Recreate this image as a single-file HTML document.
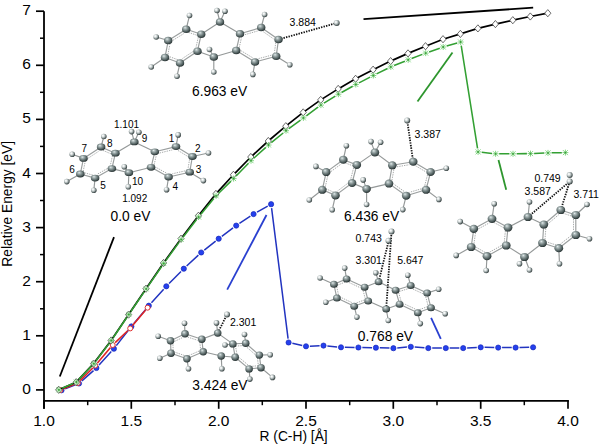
<!DOCTYPE html><html><head><meta charset="utf-8"><style>html,body{margin:0;padding:0;background:#fff;}svg{display:block;}text{font-family:"Liberation Sans",sans-serif;stroke:none;} text.s{stroke:none;}</style></head><body>
<svg width="600" height="444" viewBox="0 0 600 444">
<defs>
<radialGradient id="gc" cx="0.42" cy="0.38" r="0.64" fx="0.36" fy="0.3"><stop offset="0" stop-color="#e8f0f0"/><stop offset="0.18" stop-color="#b6c2c2"/><stop offset="0.47" stop-color="#7e8c8c"/><stop offset="0.8" stop-color="#465454"/><stop offset="1" stop-color="#202a2a"/></radialGradient>
<radialGradient id="gh" cx="0.4" cy="0.4" r="0.66" fx="0.34" fy="0.32"><stop offset="0" stop-color="#ffffff"/><stop offset="0.25" stop-color="#e8ecec"/><stop offset="0.55" stop-color="#a4aeae"/><stop offset="0.82" stop-color="#4e5a5a"/><stop offset="1" stop-color="#2a3232"/></radialGradient>
</defs>
<rect width="600" height="444" fill="#fff"/>
<path d="M44,11.2 V408.8 M36,389.9" stroke="#000" stroke-width="1.8" fill="none"/>
<line x1="43.1" y1="400.8" x2="568.9" y2="400.8" stroke="#000" stroke-width="1.8"/>
<line x1="36" y1="389.9" x2="44" y2="389.9" stroke="#000" stroke-width="1.7"/>
<text x="30.8" y="393.9" font-size="15.5" text-anchor="end" fill="#000">0</text>
<line x1="40" y1="362.8" x2="44" y2="362.8" stroke="#000" stroke-width="1.5"/>
<line x1="36" y1="335.8" x2="44" y2="335.8" stroke="#000" stroke-width="1.7"/>
<text x="30.8" y="339.8" font-size="15.5" text-anchor="end" fill="#000">1</text>
<line x1="40" y1="308.8" x2="44" y2="308.8" stroke="#000" stroke-width="1.5"/>
<line x1="36" y1="281.7" x2="44" y2="281.7" stroke="#000" stroke-width="1.7"/>
<text x="30.8" y="285.7" font-size="15.5" text-anchor="end" fill="#000">2</text>
<line x1="40" y1="254.6" x2="44" y2="254.6" stroke="#000" stroke-width="1.5"/>
<line x1="36" y1="227.6" x2="44" y2="227.6" stroke="#000" stroke-width="1.7"/>
<text x="30.8" y="231.6" font-size="15.5" text-anchor="end" fill="#000">3</text>
<line x1="40" y1="200.5" x2="44" y2="200.5" stroke="#000" stroke-width="1.5"/>
<line x1="36" y1="173.5" x2="44" y2="173.5" stroke="#000" stroke-width="1.7"/>
<text x="30.8" y="177.5" font-size="15.5" text-anchor="end" fill="#000">4</text>
<line x1="40" y1="146.4" x2="44" y2="146.4" stroke="#000" stroke-width="1.5"/>
<line x1="36" y1="119.4" x2="44" y2="119.4" stroke="#000" stroke-width="1.7"/>
<text x="30.8" y="123.4" font-size="15.5" text-anchor="end" fill="#000">5</text>
<line x1="40" y1="92.3" x2="44" y2="92.3" stroke="#000" stroke-width="1.5"/>
<line x1="36" y1="65.3" x2="44" y2="65.3" stroke="#000" stroke-width="1.7"/>
<text x="30.8" y="69.3" font-size="15.5" text-anchor="end" fill="#000">6</text>
<line x1="40" y1="38.2" x2="44" y2="38.2" stroke="#000" stroke-width="1.5"/>
<line x1="36" y1="11.2" x2="44" y2="11.2" stroke="#000" stroke-width="1.7"/>
<text x="30.8" y="15.2" font-size="15.5" text-anchor="end" fill="#000">7</text>
<line x1="44.0" y1="400.8" x2="44.0" y2="408.8" stroke="#000" stroke-width="1.7"/>
<text x="44.0" y="426.0" font-size="15.5" text-anchor="middle" fill="#000">1.0</text>
<line x1="87.7" y1="400.8" x2="87.7" y2="405.2" stroke="#000" stroke-width="1.5"/>
<line x1="131.3" y1="400.8" x2="131.3" y2="408.8" stroke="#000" stroke-width="1.7"/>
<text x="131.3" y="426.0" font-size="15.5" text-anchor="middle" fill="#000">1.5</text>
<line x1="175.0" y1="400.8" x2="175.0" y2="405.2" stroke="#000" stroke-width="1.5"/>
<line x1="218.7" y1="400.8" x2="218.7" y2="408.8" stroke="#000" stroke-width="1.7"/>
<text x="218.7" y="426.0" font-size="15.5" text-anchor="middle" fill="#000">2.0</text>
<line x1="262.3" y1="400.8" x2="262.3" y2="405.2" stroke="#000" stroke-width="1.5"/>
<line x1="306.0" y1="400.8" x2="306.0" y2="408.8" stroke="#000" stroke-width="1.7"/>
<text x="306.0" y="426.0" font-size="15.5" text-anchor="middle" fill="#000">2.5</text>
<line x1="349.7" y1="400.8" x2="349.7" y2="405.2" stroke="#000" stroke-width="1.5"/>
<line x1="393.3" y1="400.8" x2="393.3" y2="408.8" stroke="#000" stroke-width="1.7"/>
<text x="393.3" y="426.0" font-size="15.5" text-anchor="middle" fill="#000">3.0</text>
<line x1="437.0" y1="400.8" x2="437.0" y2="405.2" stroke="#000" stroke-width="1.5"/>
<line x1="480.7" y1="400.8" x2="480.7" y2="408.8" stroke="#000" stroke-width="1.7"/>
<text x="480.7" y="426.0" font-size="15.5" text-anchor="middle" fill="#000">3.5</text>
<line x1="524.3" y1="400.8" x2="524.3" y2="405.2" stroke="#000" stroke-width="1.5"/>
<line x1="568.0" y1="400.8" x2="568.0" y2="408.8" stroke="#000" stroke-width="1.7"/>
<text x="568.0" y="426.0" font-size="15.5" text-anchor="middle" fill="#000">4.0</text>
<text x="293.6" y="440.7" font-size="13.8" text-anchor="middle" fill="#000">R (C-H) [&#197;]</text>
<text transform="translate(11.8,203.8) rotate(-90)" x="0" y="0" font-size="13.8" text-anchor="middle" fill="#000">Relative Energy [eV]</text>
<line x1="59.8" y1="376.5" x2="114" y2="237.1" stroke="#000" stroke-width="1.8"/>
<line x1="363.5" y1="19.1" x2="533.2" y2="7.7" stroke="#000" stroke-width="1.8"/>
<line x1="452.5" y1="52.5" x2="417.5" y2="101.5" stroke="#2e962e" stroke-width="1.8"/>
<line x1="498.5" y1="160" x2="506.2" y2="189.7" stroke="#2e962e" stroke-width="1.8"/>
<line x1="266.5" y1="215" x2="227.2" y2="289.7" stroke="#2a40d0" stroke-width="1.8"/>
<line x1="431.1" y1="317.8" x2="440.8" y2="338.8" stroke="#2a40d0" stroke-width="1.8"/>
<path d="M65.13,388.89L75.33,384.91M81.88,380.91L93.52,370.59M99.05,365.11L111.28,351.59M116.31,345.63L128.96,329.47M133.88,323.42L146.32,308.68M151.44,302.80L163.69,289.20M169.05,283.53L181.02,271.47M186.63,266.05L198.38,255.15M204.30,250.08L215.64,241.12M221.82,236.36L233.05,227.94M239.43,223.46L250.38,216.24M257.03,212.18L267.71,206.12M271.59,208.07L288.08,338.63M292.38,343.33L302.23,345.47M309.93,346.14L319.61,345.76M327.39,345.98L337.09,346.92M344.87,347.34L354.54,347.46M362.34,347.54L372.01,347.66M379.80,347.81L389.47,348.09M397.26,347.89L406.95,347.11M414.73,347.09L424.42,347.81M432.21,348.10L441.87,348.10M449.67,348.10L459.34,348.10M467.14,347.92L476.81,347.48M484.61,347.37L494.28,347.53M502.07,347.60L511.74,347.60M519.54,347.53L529.21,347.37" fill="none" stroke="#2234c0" stroke-width="1.5" stroke-linecap="butt"/>
<circle cx="61.5" cy="390.3" r="2.6" fill="#2440ee" stroke="#1828b8" stroke-width="0.7"/>
<circle cx="79.0" cy="383.5" r="2.6" fill="#2440ee" stroke="#1828b8" stroke-width="0.7"/>
<circle cx="96.4" cy="368.0" r="2.6" fill="#2440ee" stroke="#1828b8" stroke-width="0.7"/>
<circle cx="113.9" cy="348.7" r="2.6" fill="#2440ee" stroke="#1828b8" stroke-width="0.7"/>
<circle cx="131.4" cy="326.4" r="2.6" fill="#2440ee" stroke="#1828b8" stroke-width="0.7"/>
<circle cx="148.8" cy="305.7" r="2.6" fill="#2440ee" stroke="#1828b8" stroke-width="0.7"/>
<circle cx="166.3" cy="286.3" r="2.6" fill="#2440ee" stroke="#1828b8" stroke-width="0.7"/>
<circle cx="183.8" cy="268.7" r="2.6" fill="#2440ee" stroke="#1828b8" stroke-width="0.7"/>
<circle cx="201.2" cy="252.5" r="2.6" fill="#2440ee" stroke="#1828b8" stroke-width="0.7"/>
<circle cx="218.7" cy="238.7" r="2.6" fill="#2440ee" stroke="#1828b8" stroke-width="0.7"/>
<circle cx="236.2" cy="225.6" r="2.6" fill="#2440ee" stroke="#1828b8" stroke-width="0.7"/>
<circle cx="253.6" cy="214.1" r="2.6" fill="#2440ee" stroke="#1828b8" stroke-width="0.7"/>
<circle cx="271.1" cy="204.2" r="2.6" fill="#2440ee" stroke="#1828b8" stroke-width="0.7"/>
<circle cx="288.6" cy="342.5" r="2.6" fill="#2440ee" stroke="#1828b8" stroke-width="0.7"/>
<circle cx="306.0" cy="346.3" r="2.6" fill="#2440ee" stroke="#1828b8" stroke-width="0.7"/>
<circle cx="323.5" cy="345.6" r="2.6" fill="#2440ee" stroke="#1828b8" stroke-width="0.7"/>
<circle cx="341.0" cy="347.3" r="2.6" fill="#2440ee" stroke="#1828b8" stroke-width="0.7"/>
<circle cx="358.4" cy="347.5" r="2.6" fill="#2440ee" stroke="#1828b8" stroke-width="0.7"/>
<circle cx="375.9" cy="347.7" r="2.6" fill="#2440ee" stroke="#1828b8" stroke-width="0.7"/>
<circle cx="393.4" cy="348.2" r="2.6" fill="#2440ee" stroke="#1828b8" stroke-width="0.7"/>
<circle cx="410.8" cy="346.8" r="2.6" fill="#2440ee" stroke="#1828b8" stroke-width="0.7"/>
<circle cx="428.3" cy="348.1" r="2.6" fill="#2440ee" stroke="#1828b8" stroke-width="0.7"/>
<circle cx="445.8" cy="348.1" r="2.6" fill="#2440ee" stroke="#1828b8" stroke-width="0.7"/>
<circle cx="463.2" cy="348.1" r="2.6" fill="#2440ee" stroke="#1828b8" stroke-width="0.7"/>
<circle cx="480.7" cy="347.3" r="2.6" fill="#2440ee" stroke="#1828b8" stroke-width="0.7"/>
<circle cx="498.2" cy="347.6" r="2.6" fill="#2440ee" stroke="#1828b8" stroke-width="0.7"/>
<circle cx="515.6" cy="347.6" r="2.6" fill="#2440ee" stroke="#1828b8" stroke-width="0.7"/>
<circle cx="533.1" cy="347.3" r="2.6" fill="#2440ee" stroke="#1828b8" stroke-width="0.7"/>
<path d="M63.46,388.74L74.61,384.26M80.18,380.60L92.83,368.00M97.43,363.01L110.50,347.59M115.17,342.66L127.70,330.74M132.36,325.80L145.44,310.30" fill="none" stroke="#e02424" stroke-width="1.6" stroke-linecap="butt"/>
<circle cx="60.3" cy="390.0" r="2.5" fill="#fff" stroke="#e03030" stroke-width="1"/>
<circle cx="77.8" cy="383.0" r="2.5" fill="#fff" stroke="#e03030" stroke-width="1"/>
<circle cx="95.2" cy="365.6" r="2.5" fill="#fff" stroke="#e03030" stroke-width="1"/>
<circle cx="112.7" cy="345.0" r="2.5" fill="#fff" stroke="#e03030" stroke-width="1"/>
<circle cx="130.2" cy="328.4" r="2.5" fill="#fff" stroke="#e03030" stroke-width="1"/>
<circle cx="147.6" cy="307.7" r="2.5" fill="#fff" stroke="#e03030" stroke-width="1"/>
<polyline points="58.7,389.8 76.2,382.2 93.6,363.6 111.1,340.5 128.6,314.6 146.0,288.7 163.5,263.0 181.0,238.7 198.4,215.8 215.9,193.9 233.4,174.8 250.8,157.0 268.3,141.0 285.8,126.2 303.2,112.4 320.7,99.9 338.2,88.9 355.6,78.8 373.1,69.7 390.6,61.1 408.0,53.4 425.5,46.2 443.0,39.2 460.4,33.9 477.9,28.4 495.4,24.1 512.8,20.2 530.3,16.5 547.8,13.2" fill="none" stroke="#000" stroke-width="1.7"/>
<path d="M58.7,386.2 L61.8,389.8 L58.7,393.4 L55.6,389.8 Z" fill="#fff" stroke="#444" stroke-width="0.8"/>
<path d="M76.2,378.6 L79.3,382.2 L76.2,385.8 L73.1,382.2 Z" fill="#fff" stroke="#444" stroke-width="0.8"/>
<path d="M93.6,360.0 L96.7,363.6 L93.6,367.2 L90.5,363.6 Z" fill="#fff" stroke="#444" stroke-width="0.8"/>
<path d="M111.1,336.9 L114.2,340.5 L111.1,344.1 L108.0,340.5 Z" fill="#fff" stroke="#444" stroke-width="0.8"/>
<path d="M128.6,311.0 L131.7,314.6 L128.6,318.2 L125.5,314.6 Z" fill="#fff" stroke="#444" stroke-width="0.8"/>
<path d="M146.0,285.1 L149.1,288.7 L146.0,292.3 L142.9,288.7 Z" fill="#fff" stroke="#444" stroke-width="0.8"/>
<path d="M163.5,259.4 L166.6,263.0 L163.5,266.6 L160.4,263.0 Z" fill="#fff" stroke="#444" stroke-width="0.8"/>
<path d="M181.0,235.1 L184.1,238.7 L181.0,242.3 L177.9,238.7 Z" fill="#fff" stroke="#444" stroke-width="0.8"/>
<path d="M198.4,212.2 L201.5,215.8 L198.4,219.4 L195.3,215.8 Z" fill="#fff" stroke="#444" stroke-width="0.8"/>
<path d="M215.9,190.3 L219.0,193.9 L215.9,197.5 L212.8,193.9 Z" fill="#fff" stroke="#444" stroke-width="0.8"/>
<path d="M233.4,171.2 L236.5,174.8 L233.4,178.4 L230.3,174.8 Z" fill="#fff" stroke="#444" stroke-width="0.8"/>
<path d="M250.8,153.4 L253.9,157.0 L250.8,160.6 L247.7,157.0 Z" fill="#fff" stroke="#444" stroke-width="0.8"/>
<path d="M268.3,137.4 L271.4,141.0 L268.3,144.6 L265.2,141.0 Z" fill="#fff" stroke="#444" stroke-width="0.8"/>
<path d="M285.8,122.6 L288.9,126.2 L285.8,129.8 L282.7,126.2 Z" fill="#fff" stroke="#444" stroke-width="0.8"/>
<path d="M303.2,108.8 L306.3,112.4 L303.2,116.0 L300.1,112.4 Z" fill="#fff" stroke="#444" stroke-width="0.8"/>
<path d="M320.7,96.3 L323.8,99.9 L320.7,103.5 L317.6,99.9 Z" fill="#fff" stroke="#444" stroke-width="0.8"/>
<path d="M338.2,85.3 L341.3,88.9 L338.2,92.5 L335.1,88.9 Z" fill="#fff" stroke="#444" stroke-width="0.8"/>
<path d="M355.6,75.2 L358.7,78.8 L355.6,82.4 L352.5,78.8 Z" fill="#fff" stroke="#444" stroke-width="0.8"/>
<path d="M373.1,66.1 L376.2,69.7 L373.1,73.3 L370.0,69.7 Z" fill="#fff" stroke="#444" stroke-width="0.8"/>
<path d="M390.6,57.5 L393.7,61.1 L390.6,64.7 L387.5,61.1 Z" fill="#fff" stroke="#444" stroke-width="0.8"/>
<path d="M408.0,49.8 L411.1,53.4 L408.0,57.0 L404.9,53.4 Z" fill="#fff" stroke="#444" stroke-width="0.8"/>
<path d="M425.5,42.6 L428.6,46.2 L425.5,49.8 L422.4,46.2 Z" fill="#fff" stroke="#444" stroke-width="0.8"/>
<path d="M443.0,35.6 L446.1,39.2 L443.0,42.8 L439.9,39.2 Z" fill="#fff" stroke="#444" stroke-width="0.8"/>
<path d="M460.4,30.3 L463.5,33.9 L460.4,37.5 L457.3,33.9 Z" fill="#fff" stroke="#444" stroke-width="0.8"/>
<path d="M477.9,24.8 L481.0,28.4 L477.9,32.0 L474.8,28.4 Z" fill="#fff" stroke="#444" stroke-width="0.8"/>
<path d="M495.4,20.5 L498.5,24.1 L495.4,27.7 L492.3,24.1 Z" fill="#fff" stroke="#444" stroke-width="0.8"/>
<path d="M512.8,16.6 L515.9,20.2 L512.8,23.8 L509.7,20.2 Z" fill="#fff" stroke="#444" stroke-width="0.8"/>
<path d="M530.3,12.9 L533.4,16.5 L530.3,20.1 L527.2,16.5 Z" fill="#fff" stroke="#444" stroke-width="0.8"/>
<path d="M547.8,9.6 L550.9,13.2 L547.8,16.8 L544.7,13.2 Z" fill="#fff" stroke="#444" stroke-width="0.8"/>
<path d="M62.19,388.33L73.08,383.47M78.85,379.40L91.35,366.30M96.00,360.82L109.14,343.38M113.31,337.51L126.76,317.49M130.80,311.53L144.21,291.87M148.27,285.93L161.66,266.47M165.82,260.59L179.05,242.41M183.38,236.66L196.43,219.84M200.93,214.22L213.81,198.58M218.67,193.27L231.00,181.13M236.08,176.02L248.52,163.28M253.71,158.29L265.83,147.41M271.29,142.72L283.19,132.98M288.87,128.57L300.53,120.03M306.34,115.77L318.00,107.23M323.96,103.19L335.32,96.11M341.52,92.45L352.69,86.25M359.04,82.85L370.11,77.15M376.54,73.91L387.54,68.49M394.11,65.54L404.90,61.16M411.60,58.51L422.35,54.39M429.11,51.91L439.78,48.19M446.63,46.01L457.18,42.99M461.21,45.56L477.54,148.34M481.69,152.29L492.00,153.41M499.17,153.80L509.44,153.80M516.64,153.76L526.91,153.64M534.11,153.46L544.38,153.04M551.58,152.84L561.84,152.66" fill="none" stroke="#33a033" stroke-width="1.55" stroke-linecap="butt"/>
<g stroke="#78d078" stroke-width="0.9"><line x1="56.4" y1="387.3" x2="61.4" y2="392.3"/><line x1="56.4" y1="392.3" x2="61.4" y2="387.3"/><line x1="58.9" y1="386.8" x2="58.9" y2="392.8"/><line x1="55.9" y1="389.8" x2="61.9" y2="389.8"/></g><circle cx="58.9" cy="389.8" r="0.9" fill="#3c9c3c"/>
<g stroke="#78d078" stroke-width="0.9"><line x1="73.9" y1="379.5" x2="78.9" y2="384.5"/><line x1="73.9" y1="384.5" x2="78.9" y2="379.5"/><line x1="76.4" y1="379.0" x2="76.4" y2="385.0"/><line x1="73.4" y1="382.0" x2="79.4" y2="382.0"/></g><circle cx="76.4" cy="382.0" r="0.9" fill="#3c9c3c"/>
<g stroke="#78d078" stroke-width="0.9"><line x1="91.3" y1="361.2" x2="96.3" y2="366.2"/><line x1="91.3" y1="366.2" x2="96.3" y2="361.2"/><line x1="93.8" y1="360.7" x2="93.8" y2="366.7"/><line x1="90.8" y1="363.7" x2="96.8" y2="363.7"/></g><circle cx="93.8" cy="363.7" r="0.9" fill="#3c9c3c"/>
<g stroke="#78d078" stroke-width="0.9"><line x1="108.8" y1="338.0" x2="113.8" y2="343.0"/><line x1="108.8" y1="343.0" x2="113.8" y2="338.0"/><line x1="111.3" y1="337.5" x2="111.3" y2="343.5"/><line x1="108.3" y1="340.5" x2="114.3" y2="340.5"/></g><circle cx="111.3" cy="340.5" r="0.9" fill="#3c9c3c"/>
<g stroke="#78d078" stroke-width="0.9"><line x1="126.3" y1="312.0" x2="131.3" y2="317.0"/><line x1="126.3" y1="317.0" x2="131.3" y2="312.0"/><line x1="128.8" y1="311.5" x2="128.8" y2="317.5"/><line x1="125.8" y1="314.5" x2="131.8" y2="314.5"/></g><circle cx="128.8" cy="314.5" r="0.9" fill="#3c9c3c"/>
<g stroke="#78d078" stroke-width="0.9"><line x1="143.7" y1="286.4" x2="148.7" y2="291.4"/><line x1="143.7" y1="291.4" x2="148.7" y2="286.4"/><line x1="146.2" y1="285.9" x2="146.2" y2="291.9"/><line x1="143.2" y1="288.9" x2="149.2" y2="288.9"/></g><circle cx="146.2" cy="288.9" r="0.9" fill="#3c9c3c"/>
<g stroke="#78d078" stroke-width="0.9"><line x1="161.2" y1="261.0" x2="166.2" y2="266.0"/><line x1="161.2" y1="266.0" x2="166.2" y2="261.0"/><line x1="163.7" y1="260.5" x2="163.7" y2="266.5"/><line x1="160.7" y1="263.5" x2="166.7" y2="263.5"/></g><circle cx="163.7" cy="263.5" r="0.9" fill="#3c9c3c"/>
<g stroke="#78d078" stroke-width="0.9"><line x1="178.7" y1="237.0" x2="183.7" y2="242.0"/><line x1="178.7" y1="242.0" x2="183.7" y2="237.0"/><line x1="181.2" y1="236.5" x2="181.2" y2="242.5"/><line x1="178.2" y1="239.5" x2="184.2" y2="239.5"/></g><circle cx="181.2" cy="239.5" r="0.9" fill="#3c9c3c"/>
<g stroke="#78d078" stroke-width="0.9"><line x1="196.1" y1="214.5" x2="201.1" y2="219.5"/><line x1="196.1" y1="219.5" x2="201.1" y2="214.5"/><line x1="198.6" y1="214.0" x2="198.6" y2="220.0"/><line x1="195.6" y1="217.0" x2="201.6" y2="217.0"/></g><circle cx="198.6" cy="217.0" r="0.9" fill="#3c9c3c"/>
<g stroke="#78d078" stroke-width="0.9"><line x1="213.6" y1="193.3" x2="218.6" y2="198.3"/><line x1="213.6" y1="198.3" x2="218.6" y2="193.3"/><line x1="216.1" y1="192.8" x2="216.1" y2="198.8"/><line x1="213.1" y1="195.8" x2="219.1" y2="195.8"/></g><circle cx="216.1" cy="195.8" r="0.9" fill="#3c9c3c"/>
<g stroke="#78d078" stroke-width="0.9"><line x1="231.1" y1="176.1" x2="236.1" y2="181.1"/><line x1="231.1" y1="181.1" x2="236.1" y2="176.1"/><line x1="233.6" y1="175.6" x2="233.6" y2="181.6"/><line x1="230.6" y1="178.6" x2="236.6" y2="178.6"/></g><circle cx="233.6" cy="178.6" r="0.9" fill="#3c9c3c"/>
<g stroke="#78d078" stroke-width="0.9"><line x1="248.5" y1="158.2" x2="253.5" y2="163.2"/><line x1="248.5" y1="163.2" x2="253.5" y2="158.2"/><line x1="251.0" y1="157.7" x2="251.0" y2="163.7"/><line x1="248.0" y1="160.7" x2="254.0" y2="160.7"/></g><circle cx="251.0" cy="160.7" r="0.9" fill="#3c9c3c"/>
<g stroke="#78d078" stroke-width="0.9"><line x1="266.0" y1="142.5" x2="271.0" y2="147.5"/><line x1="266.0" y1="147.5" x2="271.0" y2="142.5"/><line x1="268.5" y1="142.0" x2="268.5" y2="148.0"/><line x1="265.5" y1="145.0" x2="271.5" y2="145.0"/></g><circle cx="268.5" cy="145.0" r="0.9" fill="#3c9c3c"/>
<g stroke="#78d078" stroke-width="0.9"><line x1="283.5" y1="128.2" x2="288.5" y2="133.2"/><line x1="283.5" y1="133.2" x2="288.5" y2="128.2"/><line x1="286.0" y1="127.7" x2="286.0" y2="133.7"/><line x1="283.0" y1="130.7" x2="289.0" y2="130.7"/></g><circle cx="286.0" cy="130.7" r="0.9" fill="#3c9c3c"/>
<g stroke="#78d078" stroke-width="0.9"><line x1="300.9" y1="115.4" x2="305.9" y2="120.4"/><line x1="300.9" y1="120.4" x2="305.9" y2="115.4"/><line x1="303.4" y1="114.9" x2="303.4" y2="120.9"/><line x1="300.4" y1="117.9" x2="306.4" y2="117.9"/></g><circle cx="303.4" cy="117.9" r="0.9" fill="#3c9c3c"/>
<g stroke="#78d078" stroke-width="0.9"><line x1="318.4" y1="102.6" x2="323.4" y2="107.6"/><line x1="318.4" y1="107.6" x2="323.4" y2="102.6"/><line x1="320.9" y1="102.1" x2="320.9" y2="108.1"/><line x1="317.9" y1="105.1" x2="323.9" y2="105.1"/></g><circle cx="320.9" cy="105.1" r="0.9" fill="#3c9c3c"/>
<g stroke="#78d078" stroke-width="0.9"><line x1="335.9" y1="91.7" x2="340.9" y2="96.7"/><line x1="335.9" y1="96.7" x2="340.9" y2="91.7"/><line x1="338.4" y1="91.2" x2="338.4" y2="97.2"/><line x1="335.4" y1="94.2" x2="341.4" y2="94.2"/></g><circle cx="338.4" cy="94.2" r="0.9" fill="#3c9c3c"/>
<g stroke="#78d078" stroke-width="0.9"><line x1="353.3" y1="82.0" x2="358.3" y2="87.0"/><line x1="353.3" y1="87.0" x2="358.3" y2="82.0"/><line x1="355.8" y1="81.5" x2="355.8" y2="87.5"/><line x1="352.8" y1="84.5" x2="358.8" y2="84.5"/></g><circle cx="355.8" cy="84.5" r="0.9" fill="#3c9c3c"/>
<g stroke="#78d078" stroke-width="0.9"><line x1="370.8" y1="73.0" x2="375.8" y2="78.0"/><line x1="370.8" y1="78.0" x2="375.8" y2="73.0"/><line x1="373.3" y1="72.5" x2="373.3" y2="78.5"/><line x1="370.3" y1="75.5" x2="376.3" y2="75.5"/></g><circle cx="373.3" cy="75.5" r="0.9" fill="#3c9c3c"/>
<g stroke="#78d078" stroke-width="0.9"><line x1="388.3" y1="64.4" x2="393.3" y2="69.4"/><line x1="388.3" y1="69.4" x2="393.3" y2="64.4"/><line x1="390.8" y1="63.9" x2="390.8" y2="69.9"/><line x1="387.8" y1="66.9" x2="393.8" y2="66.9"/></g><circle cx="390.8" cy="66.9" r="0.9" fill="#3c9c3c"/>
<g stroke="#78d078" stroke-width="0.9"><line x1="405.7" y1="57.3" x2="410.7" y2="62.3"/><line x1="405.7" y1="62.3" x2="410.7" y2="57.3"/><line x1="408.2" y1="56.8" x2="408.2" y2="62.8"/><line x1="405.2" y1="59.8" x2="411.2" y2="59.8"/></g><circle cx="408.2" cy="59.8" r="0.9" fill="#3c9c3c"/>
<g stroke="#78d078" stroke-width="0.9"><line x1="423.2" y1="50.6" x2="428.2" y2="55.6"/><line x1="423.2" y1="55.6" x2="428.2" y2="50.6"/><line x1="425.7" y1="50.1" x2="425.7" y2="56.1"/><line x1="422.7" y1="53.1" x2="428.7" y2="53.1"/></g><circle cx="425.7" cy="53.1" r="0.9" fill="#3c9c3c"/>
<g stroke="#78d078" stroke-width="0.9"><line x1="440.7" y1="44.5" x2="445.7" y2="49.5"/><line x1="440.7" y1="49.5" x2="445.7" y2="44.5"/><line x1="443.2" y1="44.0" x2="443.2" y2="50.0"/><line x1="440.2" y1="47.0" x2="446.2" y2="47.0"/></g><circle cx="443.2" cy="47.0" r="0.9" fill="#3c9c3c"/>
<g stroke="#78d078" stroke-width="0.9"><line x1="458.1" y1="39.5" x2="463.1" y2="44.5"/><line x1="458.1" y1="44.5" x2="463.1" y2="39.5"/><line x1="460.6" y1="39.0" x2="460.6" y2="45.0"/><line x1="457.6" y1="42.0" x2="463.6" y2="42.0"/></g><circle cx="460.6" cy="42.0" r="0.9" fill="#3c9c3c"/>
<g stroke="#78d078" stroke-width="0.9"><line x1="475.6" y1="149.4" x2="480.6" y2="154.4"/><line x1="475.6" y1="154.4" x2="480.6" y2="149.4"/><line x1="478.1" y1="148.9" x2="478.1" y2="154.9"/><line x1="475.1" y1="151.9" x2="481.1" y2="151.9"/></g><circle cx="478.1" cy="151.9" r="0.9" fill="#3c9c3c"/>
<g stroke="#78d078" stroke-width="0.9"><line x1="493.1" y1="151.3" x2="498.1" y2="156.3"/><line x1="493.1" y1="156.3" x2="498.1" y2="151.3"/><line x1="495.6" y1="150.8" x2="495.6" y2="156.8"/><line x1="492.6" y1="153.8" x2="498.6" y2="153.8"/></g><circle cx="495.6" cy="153.8" r="0.9" fill="#3c9c3c"/>
<g stroke="#78d078" stroke-width="0.9"><line x1="510.5" y1="151.3" x2="515.5" y2="156.3"/><line x1="510.5" y1="156.3" x2="515.5" y2="151.3"/><line x1="513.0" y1="150.8" x2="513.0" y2="156.8"/><line x1="510.0" y1="153.8" x2="516.0" y2="153.8"/></g><circle cx="513.0" cy="153.8" r="0.9" fill="#3c9c3c"/>
<g stroke="#78d078" stroke-width="0.9"><line x1="528.0" y1="151.1" x2="533.0" y2="156.1"/><line x1="528.0" y1="156.1" x2="533.0" y2="151.1"/><line x1="530.5" y1="150.6" x2="530.5" y2="156.6"/><line x1="527.5" y1="153.6" x2="533.5" y2="153.6"/></g><circle cx="530.5" cy="153.6" r="0.9" fill="#3c9c3c"/>
<g stroke="#78d078" stroke-width="0.9"><line x1="545.5" y1="150.4" x2="550.5" y2="155.4"/><line x1="545.5" y1="155.4" x2="550.5" y2="150.4"/><line x1="548.0" y1="149.9" x2="548.0" y2="155.9"/><line x1="545.0" y1="152.9" x2="551.0" y2="152.9"/></g><circle cx="548.0" cy="152.9" r="0.9" fill="#3c9c3c"/>
<g stroke="#78d078" stroke-width="0.9"><line x1="562.9" y1="150.1" x2="567.9" y2="155.1"/><line x1="562.9" y1="155.1" x2="567.9" y2="150.1"/><line x1="565.4" y1="149.6" x2="565.4" y2="155.6"/><line x1="562.4" y1="152.6" x2="568.4" y2="152.6"/></g><circle cx="565.4" cy="152.6" r="0.9" fill="#3c9c3c"/>
<line x1="186.2" y1="29.2" x2="189.5" y2="15.5" stroke="#949898" stroke-width="1.15"/>
<line x1="168.2" y1="40.5" x2="156.2" y2="37.0" stroke="#949898" stroke-width="1.15"/>
<line x1="165.0" y1="57.5" x2="151.2" y2="67.0" stroke="#949898" stroke-width="1.15"/>
<line x1="180.0" y1="63.0" x2="177.0" y2="76.2" stroke="#949898" stroke-width="1.15"/>
<line x1="220.0" y1="22.0" x2="217.0" y2="10.5" stroke="#949898" stroke-width="1.15"/>
<line x1="220.0" y1="22.0" x2="225.0" y2="11.2" stroke="#949898" stroke-width="1.15"/>
<line x1="261.2" y1="27.5" x2="264.6" y2="14.5" stroke="#949898" stroke-width="1.15"/>
<line x1="276.2" y1="56.2" x2="289.8" y2="64.8" stroke="#949898" stroke-width="1.15"/>
<line x1="255.0" y1="62.0" x2="252.9" y2="74.4" stroke="#949898" stroke-width="1.15"/>
<line x1="213.8" y1="57.0" x2="209.5" y2="49.5" stroke="#949898" stroke-width="1.15"/>
<line x1="213.8" y1="57.0" x2="213.8" y2="72.0" stroke="#949898" stroke-width="1.15"/>
<line x1="201.2" y1="34.2" x2="220.0" y2="22.0" stroke="#949898" stroke-width="1.15"/>
<line x1="220.0" y1="22.0" x2="240.0" y2="33.8" stroke="#949898" stroke-width="1.15"/>
<line x1="197.5" y1="51.2" x2="213.8" y2="57.0" stroke="#949898" stroke-width="1.15"/>
<line x1="213.8" y1="57.0" x2="236.2" y2="50.5" stroke="#949898" stroke-width="1.15"/>
<line x1="186.2" y1="29.2" x2="201.2" y2="34.2" stroke="#9a9e9e" stroke-width="1.15"/>
<line x1="188.5" y1="32.4" x2="197.5" y2="35.4" stroke="#a4a8a8" stroke-width="0.95" stroke-dasharray="1.4,1.0"/>
<line x1="201.2" y1="34.2" x2="197.5" y2="51.2" stroke="#9a9e9e" stroke-width="1.15"/>
<line x1="198.3" y1="37.2" x2="196.0" y2="47.4" stroke="#a4a8a8" stroke-width="0.95" stroke-dasharray="1.4,1.0"/>
<line x1="197.5" y1="51.2" x2="180.0" y2="63.0" stroke="#9a9e9e" stroke-width="1.15"/>
<line x1="192.7" y1="51.7" x2="182.2" y2="58.7" stroke="#a4a8a8" stroke-width="0.95" stroke-dasharray="1.4,1.0"/>
<line x1="180.0" y1="63.0" x2="165.0" y2="57.5" stroke="#9a9e9e" stroke-width="1.15"/>
<line x1="177.8" y1="59.7" x2="168.8" y2="56.4" stroke="#a4a8a8" stroke-width="0.95" stroke-dasharray="1.4,1.0"/>
<line x1="165.0" y1="57.5" x2="168.2" y2="40.5" stroke="#9a9e9e" stroke-width="1.15"/>
<line x1="167.9" y1="54.5" x2="169.9" y2="44.3" stroke="#a4a8a8" stroke-width="0.95" stroke-dasharray="1.4,1.0"/>
<line x1="168.2" y1="40.5" x2="186.2" y2="29.2" stroke="#9a9e9e" stroke-width="1.15"/>
<line x1="173.1" y1="40.2" x2="183.9" y2="33.5" stroke="#a4a8a8" stroke-width="0.95" stroke-dasharray="1.4,1.0"/>
<line x1="240.0" y1="33.8" x2="261.2" y2="27.5" stroke="#9a9e9e" stroke-width="1.15"/>
<line x1="244.9" y1="34.7" x2="257.6" y2="31.0" stroke="#a4a8a8" stroke-width="0.95" stroke-dasharray="1.4,1.0"/>
<line x1="261.2" y1="27.5" x2="278.5" y2="39.5" stroke="#9a9e9e" stroke-width="1.15"/>
<line x1="263.4" y1="31.8" x2="273.7" y2="39.0" stroke="#a4a8a8" stroke-width="0.95" stroke-dasharray="1.4,1.0"/>
<line x1="278.5" y1="39.5" x2="276.2" y2="56.2" stroke="#9a9e9e" stroke-width="1.15"/>
<line x1="275.8" y1="42.5" x2="274.4" y2="52.6" stroke="#a4a8a8" stroke-width="0.95" stroke-dasharray="1.4,1.0"/>
<line x1="276.2" y1="56.2" x2="255.0" y2="62.0" stroke="#9a9e9e" stroke-width="1.15"/>
<line x1="271.4" y1="55.2" x2="258.6" y2="58.6" stroke="#a4a8a8" stroke-width="0.95" stroke-dasharray="1.4,1.0"/>
<line x1="255.0" y1="62.0" x2="236.2" y2="50.5" stroke="#9a9e9e" stroke-width="1.15"/>
<line x1="252.5" y1="57.7" x2="241.2" y2="50.8" stroke="#a4a8a8" stroke-width="0.95" stroke-dasharray="1.4,1.0"/>
<line x1="236.2" y1="50.5" x2="240.0" y2="33.8" stroke="#9a9e9e" stroke-width="1.15"/>
<line x1="239.2" y1="47.7" x2="241.5" y2="37.6" stroke="#a4a8a8" stroke-width="0.95" stroke-dasharray="1.4,1.0"/>
<line x1="278.5" y1="39.5" x2="336.7" y2="23.0" stroke="#111" stroke-width="1.8" stroke-dasharray="1.4,1.2"/>
<circle cx="217.0" cy="10.5" r="2.8" fill="url(#gh)"/>
<circle cx="225.0" cy="11.2" r="2.8" fill="url(#gh)"/>
<circle cx="264.6" cy="14.5" r="2.8" fill="url(#gh)"/>
<circle cx="189.5" cy="15.5" r="2.8" fill="url(#gh)"/>
<ellipse cx="220.0" cy="22.0" rx="4.2" ry="3.8" fill="url(#gc)"/>
<circle cx="336.7" cy="23.0" r="3.0" fill="url(#gh)"/>
<ellipse cx="261.2" cy="27.5" rx="4.2" ry="3.8" fill="url(#gc)"/>
<ellipse cx="186.2" cy="29.2" rx="4.2" ry="3.8" fill="url(#gc)"/>
<ellipse cx="240.0" cy="33.8" rx="4.2" ry="3.8" fill="url(#gc)"/>
<ellipse cx="201.2" cy="34.2" rx="4.2" ry="3.8" fill="url(#gc)"/>
<circle cx="156.2" cy="37.0" r="2.8" fill="url(#gh)"/>
<ellipse cx="278.5" cy="39.5" rx="4.2" ry="3.8" fill="url(#gc)"/>
<ellipse cx="168.2" cy="40.5" rx="4.2" ry="3.8" fill="url(#gc)"/>
<circle cx="209.5" cy="49.5" r="2.8" fill="url(#gh)"/>
<ellipse cx="236.2" cy="50.5" rx="4.2" ry="3.8" fill="url(#gc)"/>
<ellipse cx="197.5" cy="51.2" rx="4.2" ry="3.8" fill="url(#gc)"/>
<ellipse cx="276.2" cy="56.2" rx="4.2" ry="3.8" fill="url(#gc)"/>
<ellipse cx="213.8" cy="57.0" rx="4.2" ry="3.8" fill="url(#gc)"/>
<ellipse cx="165.0" cy="57.5" rx="4.2" ry="3.8" fill="url(#gc)"/>
<ellipse cx="255.0" cy="62.0" rx="4.2" ry="3.8" fill="url(#gc)"/>
<ellipse cx="180.0" cy="63.0" rx="4.2" ry="3.8" fill="url(#gc)"/>
<circle cx="289.8" cy="64.8" r="2.8" fill="url(#gh)"/>
<circle cx="151.2" cy="67.0" r="2.8" fill="url(#gh)"/>
<circle cx="213.8" cy="72.0" r="2.8" fill="url(#gh)"/>
<circle cx="252.9" cy="74.4" r="2.8" fill="url(#gh)"/>
<circle cx="177.0" cy="76.2" r="2.8" fill="url(#gh)"/>
<text class="s" x="289.6" y="25.9" font-size="10.5" text-anchor="start" fill="#000">3.884</text>
<text x="192.0" y="96.0" font-size="13.8" text-anchor="start" fill="#000">6.963 eV</text>
<line x1="101.1" y1="147.0" x2="103.8" y2="136.5" stroke="#949898" stroke-width="1.15"/>
<line x1="83.5" y1="158.4" x2="72.2" y2="154.3" stroke="#949898" stroke-width="1.15"/>
<line x1="80.3" y1="174.0" x2="66.8" y2="181.6" stroke="#949898" stroke-width="1.15"/>
<line x1="95.1" y1="178.1" x2="93.8" y2="190.3" stroke="#949898" stroke-width="1.15"/>
<line x1="134.3" y1="141.9" x2="131.6" y2="131.6" stroke="#949898" stroke-width="1.15"/>
<line x1="134.3" y1="141.9" x2="138.9" y2="132.2" stroke="#949898" stroke-width="1.15"/>
<line x1="176.0" y1="146.6" x2="178.2" y2="134.9" stroke="#949898" stroke-width="1.15"/>
<line x1="192.4" y1="156.5" x2="208.5" y2="153.0" stroke="#949898" stroke-width="1.15"/>
<line x1="189.7" y1="172.2" x2="203.4" y2="180.6" stroke="#949898" stroke-width="1.15"/>
<line x1="168.6" y1="177.0" x2="166.6" y2="189.7" stroke="#949898" stroke-width="1.15"/>
<line x1="128.9" y1="172.7" x2="124.3" y2="166.8" stroke="#949898" stroke-width="1.15"/>
<line x1="128.9" y1="172.7" x2="128.3" y2="186.8" stroke="#949898" stroke-width="1.15"/>
<line x1="115.4" y1="153.2" x2="134.3" y2="141.9" stroke="#949898" stroke-width="1.15"/>
<line x1="134.3" y1="141.9" x2="154.8" y2="151.8" stroke="#949898" stroke-width="1.15"/>
<line x1="111.9" y1="168.6" x2="128.9" y2="172.7" stroke="#949898" stroke-width="1.15"/>
<line x1="128.9" y1="172.7" x2="151.1" y2="167.3" stroke="#949898" stroke-width="1.15"/>
<line x1="101.1" y1="147.0" x2="115.4" y2="153.2" stroke="#9a9e9e" stroke-width="1.15"/>
<line x1="103.0" y1="150.4" x2="111.6" y2="154.1" stroke="#a4a8a8" stroke-width="0.95" stroke-dasharray="1.4,1.0"/>
<line x1="115.4" y1="153.2" x2="111.9" y2="168.6" stroke="#9a9e9e" stroke-width="1.15"/>
<line x1="112.5" y1="155.8" x2="110.4" y2="165.0" stroke="#a4a8a8" stroke-width="0.95" stroke-dasharray="1.4,1.0"/>
<line x1="111.9" y1="168.6" x2="95.1" y2="178.1" stroke="#9a9e9e" stroke-width="1.15"/>
<line x1="107.4" y1="168.5" x2="97.3" y2="174.2" stroke="#a4a8a8" stroke-width="0.95" stroke-dasharray="1.4,1.0"/>
<line x1="95.1" y1="178.1" x2="80.3" y2="174.0" stroke="#9a9e9e" stroke-width="1.15"/>
<line x1="92.8" y1="175.1" x2="83.9" y2="172.6" stroke="#a4a8a8" stroke-width="0.95" stroke-dasharray="1.4,1.0"/>
<line x1="80.3" y1="174.0" x2="83.5" y2="158.4" stroke="#9a9e9e" stroke-width="1.15"/>
<line x1="83.2" y1="171.3" x2="85.1" y2="162.0" stroke="#a4a8a8" stroke-width="0.95" stroke-dasharray="1.4,1.0"/>
<line x1="83.5" y1="158.4" x2="101.1" y2="147.0" stroke="#9a9e9e" stroke-width="1.15"/>
<line x1="88.3" y1="158.1" x2="98.8" y2="151.2" stroke="#a4a8a8" stroke-width="0.95" stroke-dasharray="1.4,1.0"/>
<line x1="154.8" y1="151.8" x2="176.0" y2="146.6" stroke="#9a9e9e" stroke-width="1.15"/>
<line x1="159.6" y1="153.0" x2="172.3" y2="149.9" stroke="#a4a8a8" stroke-width="0.95" stroke-dasharray="1.4,1.0"/>
<line x1="176.0" y1="146.6" x2="192.4" y2="156.5" stroke="#9a9e9e" stroke-width="1.15"/>
<line x1="178.1" y1="150.5" x2="187.9" y2="156.5" stroke="#a4a8a8" stroke-width="0.95" stroke-dasharray="1.4,1.0"/>
<line x1="192.4" y1="156.5" x2="189.7" y2="172.2" stroke="#9a9e9e" stroke-width="1.15"/>
<line x1="189.6" y1="159.3" x2="188.0" y2="168.7" stroke="#a4a8a8" stroke-width="0.95" stroke-dasharray="1.4,1.0"/>
<line x1="189.7" y1="172.2" x2="168.6" y2="177.0" stroke="#9a9e9e" stroke-width="1.15"/>
<line x1="185.0" y1="170.9" x2="172.3" y2="173.8" stroke="#a4a8a8" stroke-width="0.95" stroke-dasharray="1.4,1.0"/>
<line x1="168.6" y1="177.0" x2="151.1" y2="167.3" stroke="#9a9e9e" stroke-width="1.15"/>
<line x1="166.2" y1="173.0" x2="155.7" y2="167.2" stroke="#a4a8a8" stroke-width="0.95" stroke-dasharray="1.4,1.0"/>
<line x1="151.1" y1="167.3" x2="154.8" y2="151.8" stroke="#9a9e9e" stroke-width="1.15"/>
<line x1="154.1" y1="164.7" x2="156.3" y2="155.4" stroke="#a4a8a8" stroke-width="0.95" stroke-dasharray="1.4,1.0"/>
<circle cx="131.6" cy="131.6" r="2.8" fill="url(#gh)"/>
<circle cx="138.9" cy="132.2" r="2.8" fill="url(#gh)"/>
<circle cx="178.2" cy="134.9" r="2.8" fill="url(#gh)"/>
<circle cx="103.8" cy="136.5" r="2.8" fill="url(#gh)"/>
<ellipse cx="134.3" cy="141.9" rx="4.3" ry="3.4" fill="url(#gc)"/>
<ellipse cx="176.0" cy="146.6" rx="4.3" ry="3.4" fill="url(#gc)"/>
<ellipse cx="101.1" cy="147.0" rx="4.3" ry="3.4" fill="url(#gc)"/>
<ellipse cx="154.8" cy="151.8" rx="4.3" ry="3.4" fill="url(#gc)"/>
<circle cx="208.5" cy="153.0" r="2.8" fill="url(#gh)"/>
<ellipse cx="115.4" cy="153.2" rx="4.3" ry="3.4" fill="url(#gc)"/>
<circle cx="72.2" cy="154.3" r="2.8" fill="url(#gh)"/>
<ellipse cx="192.4" cy="156.5" rx="4.3" ry="3.4" fill="url(#gc)"/>
<ellipse cx="83.5" cy="158.4" rx="4.3" ry="3.4" fill="url(#gc)"/>
<circle cx="124.3" cy="166.8" r="2.8" fill="url(#gh)"/>
<ellipse cx="151.1" cy="167.3" rx="4.3" ry="3.4" fill="url(#gc)"/>
<ellipse cx="111.9" cy="168.6" rx="4.3" ry="3.4" fill="url(#gc)"/>
<ellipse cx="189.7" cy="172.2" rx="4.3" ry="3.4" fill="url(#gc)"/>
<ellipse cx="128.9" cy="172.7" rx="4.3" ry="3.4" fill="url(#gc)"/>
<ellipse cx="80.3" cy="174.0" rx="4.3" ry="3.4" fill="url(#gc)"/>
<ellipse cx="168.6" cy="177.0" rx="4.3" ry="3.4" fill="url(#gc)"/>
<ellipse cx="95.1" cy="178.1" rx="4.3" ry="3.4" fill="url(#gc)"/>
<circle cx="203.4" cy="180.6" r="2.8" fill="url(#gh)"/>
<circle cx="66.8" cy="181.6" r="2.8" fill="url(#gh)"/>
<circle cx="128.3" cy="186.8" r="2.8" fill="url(#gh)"/>
<circle cx="166.6" cy="189.7" r="2.8" fill="url(#gh)"/>
<circle cx="93.8" cy="190.3" r="2.8" fill="url(#gh)"/>
<text class="s" x="114.0" y="127.8" font-size="10" text-anchor="start" fill="#000">1.101</text>
<text class="s" x="141.8" y="142.4" font-size="10" text-anchor="start" fill="#000">9</text>
<text class="s" x="107.0" y="146.5" font-size="10" text-anchor="start" fill="#000">8</text>
<text class="s" x="81.4" y="151.9" font-size="10" text-anchor="start" fill="#000">7</text>
<text class="s" x="69.2" y="173.1" font-size="10" text-anchor="start" fill="#000">6</text>
<text class="s" x="100.3" y="188.9" font-size="10" text-anchor="start" fill="#000">5</text>
<text class="s" x="132.0" y="185.0" font-size="10" text-anchor="start" fill="#000">10</text>
<text class="s" x="122.2" y="201.6" font-size="10" text-anchor="start" fill="#000">1.092</text>
<text class="s" x="172.6" y="189.6" font-size="10" text-anchor="start" fill="#000">4</text>
<text class="s" x="195.8" y="173.2" font-size="10" text-anchor="start" fill="#000">3</text>
<text class="s" x="195.0" y="152.0" font-size="10" text-anchor="start" fill="#000">2</text>
<text class="s" x="168.8" y="142.0" font-size="10" text-anchor="start" fill="#000">1</text>
<text x="110.5" y="220.8" font-size="13.8" text-anchor="start" fill="#000">0.0 eV</text>
<line x1="343.3" y1="159.7" x2="346.4" y2="145.7" stroke="#949898" stroke-width="1.15"/>
<line x1="326.2" y1="172.1" x2="315.9" y2="166.4" stroke="#949898" stroke-width="1.15"/>
<line x1="322.3" y1="189.8" x2="309.3" y2="200.0" stroke="#949898" stroke-width="1.15"/>
<line x1="335.5" y1="195.4" x2="332.2" y2="209.8" stroke="#949898" stroke-width="1.15"/>
<line x1="374.9" y1="152.4" x2="371.0" y2="141.6" stroke="#949898" stroke-width="1.15"/>
<line x1="374.9" y1="152.4" x2="380.6" y2="142.3" stroke="#949898" stroke-width="1.15"/>
<line x1="366.6" y1="188.9" x2="363.2" y2="179.9" stroke="#949898" stroke-width="1.15"/>
<line x1="366.6" y1="188.9" x2="366.6" y2="204.5" stroke="#949898" stroke-width="1.15"/>
<line x1="406.2" y1="195.7" x2="402.8" y2="209.6" stroke="#949898" stroke-width="1.15"/>
<line x1="426.0" y1="189.8" x2="438.9" y2="199.4" stroke="#949898" stroke-width="1.15"/>
<line x1="430.6" y1="172.0" x2="446.3" y2="168.3" stroke="#949898" stroke-width="1.15"/>
<line x1="356.8" y1="164.9" x2="374.9" y2="152.4" stroke="#949898" stroke-width="1.15"/>
<line x1="374.9" y1="152.4" x2="392.3" y2="165.3" stroke="#949898" stroke-width="1.15"/>
<line x1="352.1" y1="183.0" x2="366.6" y2="188.9" stroke="#949898" stroke-width="1.15"/>
<line x1="366.6" y1="188.9" x2="389.0" y2="183.6" stroke="#949898" stroke-width="1.15"/>
<line x1="343.3" y1="159.7" x2="356.8" y2="164.9" stroke="#9a9e9e" stroke-width="1.15"/>
<line x1="345.2" y1="162.9" x2="353.3" y2="166.0" stroke="#a4a8a8" stroke-width="0.95" stroke-dasharray="1.4,1.0"/>
<line x1="356.8" y1="164.9" x2="352.1" y2="183.0" stroke="#9a9e9e" stroke-width="1.15"/>
<line x1="353.6" y1="167.9" x2="350.8" y2="178.8" stroke="#a4a8a8" stroke-width="0.95" stroke-dasharray="1.4,1.0"/>
<line x1="352.1" y1="183.0" x2="335.5" y2="195.4" stroke="#9a9e9e" stroke-width="1.15"/>
<line x1="347.4" y1="183.6" x2="337.4" y2="191.1" stroke="#a4a8a8" stroke-width="0.95" stroke-dasharray="1.4,1.0"/>
<line x1="335.5" y1="195.4" x2="322.3" y2="189.8" stroke="#9a9e9e" stroke-width="1.15"/>
<line x1="333.8" y1="192.2" x2="325.8" y2="188.8" stroke="#a4a8a8" stroke-width="0.95" stroke-dasharray="1.4,1.0"/>
<line x1="322.3" y1="189.8" x2="326.2" y2="172.1" stroke="#9a9e9e" stroke-width="1.15"/>
<line x1="325.3" y1="186.8" x2="327.7" y2="176.1" stroke="#a4a8a8" stroke-width="0.95" stroke-dasharray="1.4,1.0"/>
<line x1="326.2" y1="172.1" x2="343.3" y2="159.7" stroke="#9a9e9e" stroke-width="1.15"/>
<line x1="331.0" y1="171.5" x2="341.2" y2="164.0" stroke="#a4a8a8" stroke-width="0.95" stroke-dasharray="1.4,1.0"/>
<line x1="392.3" y1="165.3" x2="413.2" y2="161.7" stroke="#9a9e9e" stroke-width="1.15"/>
<line x1="396.9" y1="166.8" x2="409.4" y2="164.7" stroke="#a4a8a8" stroke-width="0.95" stroke-dasharray="1.4,1.0"/>
<line x1="413.2" y1="161.7" x2="430.6" y2="172.0" stroke="#9a9e9e" stroke-width="1.15"/>
<line x1="415.5" y1="165.7" x2="425.9" y2="171.9" stroke="#a4a8a8" stroke-width="0.95" stroke-dasharray="1.4,1.0"/>
<line x1="430.6" y1="172.0" x2="426.0" y2="189.8" stroke="#9a9e9e" stroke-width="1.15"/>
<line x1="427.5" y1="175.0" x2="424.7" y2="185.7" stroke="#a4a8a8" stroke-width="0.95" stroke-dasharray="1.4,1.0"/>
<line x1="426.0" y1="189.8" x2="406.2" y2="195.7" stroke="#9a9e9e" stroke-width="1.15"/>
<line x1="421.4" y1="188.8" x2="409.5" y2="192.3" stroke="#a4a8a8" stroke-width="0.95" stroke-dasharray="1.4,1.0"/>
<line x1="406.2" y1="195.7" x2="389.0" y2="183.6" stroke="#9a9e9e" stroke-width="1.15"/>
<line x1="404.1" y1="191.4" x2="393.8" y2="184.1" stroke="#a4a8a8" stroke-width="0.95" stroke-dasharray="1.4,1.0"/>
<line x1="389.0" y1="183.6" x2="392.3" y2="165.3" stroke="#9a9e9e" stroke-width="1.15"/>
<line x1="391.9" y1="180.3" x2="393.9" y2="169.4" stroke="#a4a8a8" stroke-width="0.95" stroke-dasharray="1.4,1.0"/>
<line x1="413.2" y1="161.7" x2="407.2" y2="120.4" stroke="#111" stroke-width="1.8" stroke-dasharray="1.4,1.2"/>
<circle cx="407.2" cy="120.4" r="3.0" fill="url(#gh)"/>
<circle cx="371.0" cy="141.6" r="2.8" fill="url(#gh)"/>
<circle cx="380.6" cy="142.3" r="2.8" fill="url(#gh)"/>
<circle cx="346.4" cy="145.7" r="2.8" fill="url(#gh)"/>
<ellipse cx="374.9" cy="152.4" rx="4.3" ry="4.0" fill="url(#gc)"/>
<ellipse cx="343.3" cy="159.7" rx="4.3" ry="4.0" fill="url(#gc)"/>
<ellipse cx="413.2" cy="161.7" rx="4.3" ry="4.0" fill="url(#gc)"/>
<ellipse cx="356.8" cy="164.9" rx="4.3" ry="4.0" fill="url(#gc)"/>
<ellipse cx="392.3" cy="165.3" rx="4.3" ry="4.0" fill="url(#gc)"/>
<circle cx="315.9" cy="166.4" r="2.8" fill="url(#gh)"/>
<circle cx="446.3" cy="168.3" r="2.8" fill="url(#gh)"/>
<ellipse cx="430.6" cy="172.0" rx="4.3" ry="4.0" fill="url(#gc)"/>
<ellipse cx="326.2" cy="172.1" rx="4.3" ry="4.0" fill="url(#gc)"/>
<circle cx="363.2" cy="179.9" r="2.8" fill="url(#gh)"/>
<ellipse cx="352.1" cy="183.0" rx="4.3" ry="4.0" fill="url(#gc)"/>
<ellipse cx="389.0" cy="183.6" rx="4.3" ry="4.0" fill="url(#gc)"/>
<ellipse cx="366.6" cy="188.9" rx="4.3" ry="4.0" fill="url(#gc)"/>
<ellipse cx="322.3" cy="189.8" rx="4.3" ry="4.0" fill="url(#gc)"/>
<ellipse cx="426.0" cy="189.8" rx="4.3" ry="4.0" fill="url(#gc)"/>
<ellipse cx="335.5" cy="195.4" rx="4.3" ry="4.0" fill="url(#gc)"/>
<ellipse cx="406.2" cy="195.7" rx="4.3" ry="4.0" fill="url(#gc)"/>
<circle cx="438.9" cy="199.4" r="2.8" fill="url(#gh)"/>
<circle cx="309.3" cy="200.0" r="2.8" fill="url(#gh)"/>
<circle cx="366.6" cy="204.5" r="2.8" fill="url(#gh)"/>
<circle cx="402.8" cy="209.6" r="2.8" fill="url(#gh)"/>
<circle cx="332.2" cy="209.8" r="2.8" fill="url(#gh)"/>
<text class="s" x="414.6" y="138.4" font-size="10.5" text-anchor="start" fill="#000">3.387</text>
<text x="344.0" y="220.8" font-size="13.8" text-anchor="start" fill="#000">6.436 eV</text>
<line x1="492.0" y1="218.8" x2="494.2" y2="203.8" stroke="#949898" stroke-width="1.15"/>
<line x1="473.8" y1="228.8" x2="460.2" y2="221.6" stroke="#949898" stroke-width="1.15"/>
<line x1="471.2" y1="247.0" x2="456.2" y2="255.4" stroke="#949898" stroke-width="1.15"/>
<line x1="487.0" y1="256.2" x2="486.2" y2="270.5" stroke="#949898" stroke-width="1.15"/>
<line x1="528.0" y1="217.0" x2="529.5" y2="202.0" stroke="#949898" stroke-width="1.15"/>
<line x1="575.8" y1="215.0" x2="587.0" y2="204.5" stroke="#949898" stroke-width="1.15"/>
<line x1="575.8" y1="235.0" x2="589.5" y2="238.8" stroke="#949898" stroke-width="1.15"/>
<line x1="558.8" y1="248.2" x2="559.5" y2="263.8" stroke="#949898" stroke-width="1.15"/>
<line x1="524.5" y1="257.0" x2="519.5" y2="263.8" stroke="#949898" stroke-width="1.15"/>
<line x1="524.5" y1="257.0" x2="529.5" y2="270.0" stroke="#949898" stroke-width="1.15"/>
<line x1="508.0" y1="227.5" x2="528.0" y2="217.0" stroke="#949898" stroke-width="1.15"/>
<line x1="528.0" y1="217.0" x2="543.8" y2="224.5" stroke="#949898" stroke-width="1.15"/>
<line x1="506.2" y1="245.5" x2="524.5" y2="257.0" stroke="#949898" stroke-width="1.15"/>
<line x1="524.5" y1="257.0" x2="542.5" y2="243.0" stroke="#949898" stroke-width="1.15"/>
<line x1="492.0" y1="218.8" x2="508.0" y2="227.5" stroke="#9a9e9e" stroke-width="1.15"/>
<line x1="494.1" y1="222.5" x2="503.7" y2="227.8" stroke="#a4a8a8" stroke-width="0.95" stroke-dasharray="1.4,1.0"/>
<line x1="508.0" y1="227.5" x2="506.2" y2="245.5" stroke="#9a9e9e" stroke-width="1.15"/>
<line x1="505.4" y1="230.9" x2="504.3" y2="241.7" stroke="#a4a8a8" stroke-width="0.95" stroke-dasharray="1.4,1.0"/>
<line x1="506.2" y1="245.5" x2="487.0" y2="256.2" stroke="#9a9e9e" stroke-width="1.15"/>
<line x1="501.3" y1="245.6" x2="489.7" y2="252.1" stroke="#a4a8a8" stroke-width="0.95" stroke-dasharray="1.4,1.0"/>
<line x1="487.0" y1="256.2" x2="471.2" y2="247.0" stroke="#9a9e9e" stroke-width="1.15"/>
<line x1="485.0" y1="252.4" x2="475.6" y2="246.9" stroke="#a4a8a8" stroke-width="0.95" stroke-dasharray="1.4,1.0"/>
<line x1="471.2" y1="247.0" x2="473.8" y2="228.8" stroke="#9a9e9e" stroke-width="1.15"/>
<line x1="474.0" y1="243.7" x2="475.5" y2="232.7" stroke="#a4a8a8" stroke-width="0.95" stroke-dasharray="1.4,1.0"/>
<line x1="473.8" y1="228.8" x2="492.0" y2="218.8" stroke="#9a9e9e" stroke-width="1.15"/>
<line x1="478.5" y1="228.8" x2="489.5" y2="222.8" stroke="#a4a8a8" stroke-width="0.95" stroke-dasharray="1.4,1.0"/>
<line x1="543.8" y1="224.5" x2="560.8" y2="210.0" stroke="#9a9e9e" stroke-width="1.15"/>
<line x1="548.6" y1="223.3" x2="558.8" y2="214.6" stroke="#a4a8a8" stroke-width="0.95" stroke-dasharray="1.4,1.0"/>
<line x1="560.8" y1="210.0" x2="575.8" y2="215.0" stroke="#9a9e9e" stroke-width="1.15"/>
<line x1="563.0" y1="213.2" x2="572.0" y2="216.2" stroke="#a4a8a8" stroke-width="0.95" stroke-dasharray="1.4,1.0"/>
<line x1="575.8" y1="215.0" x2="575.8" y2="235.0" stroke="#9a9e9e" stroke-width="1.15"/>
<line x1="573.5" y1="219.0" x2="573.5" y2="231.0" stroke="#a4a8a8" stroke-width="0.95" stroke-dasharray="1.4,1.0"/>
<line x1="575.8" y1="235.0" x2="558.8" y2="248.2" stroke="#9a9e9e" stroke-width="1.15"/>
<line x1="570.9" y1="235.8" x2="560.7" y2="243.8" stroke="#a4a8a8" stroke-width="0.95" stroke-dasharray="1.4,1.0"/>
<line x1="558.8" y1="248.2" x2="542.5" y2="243.0" stroke="#9a9e9e" stroke-width="1.15"/>
<line x1="556.2" y1="245.0" x2="546.5" y2="241.9" stroke="#a4a8a8" stroke-width="0.95" stroke-dasharray="1.4,1.0"/>
<line x1="542.5" y1="243.0" x2="543.8" y2="224.5" stroke="#9a9e9e" stroke-width="1.15"/>
<line x1="545.0" y1="239.5" x2="545.8" y2="228.4" stroke="#a4a8a8" stroke-width="0.95" stroke-dasharray="1.4,1.0"/>
<line x1="528.0" y1="217.0" x2="569.7" y2="181.5" stroke="#111" stroke-width="1.8" stroke-dasharray="1.4,1.2"/>
<line x1="560.8" y1="210.0" x2="569.7" y2="181.5" stroke="#111" stroke-width="1.8" stroke-dasharray="1.4,1.2"/>
<circle cx="569.7" cy="175.1" r="3.0" fill="url(#gh)"/>
<circle cx="569.7" cy="181.5" r="3.0" fill="url(#gh)"/>
<circle cx="529.5" cy="202.0" r="2.8" fill="url(#gh)"/>
<circle cx="494.2" cy="203.8" r="2.8" fill="url(#gh)"/>
<circle cx="587.0" cy="204.5" r="2.8" fill="url(#gh)"/>
<ellipse cx="560.8" cy="210.0" rx="4.4" ry="4.1" fill="url(#gc)"/>
<ellipse cx="575.8" cy="215.0" rx="4.4" ry="4.1" fill="url(#gc)"/>
<ellipse cx="528.0" cy="217.0" rx="4.4" ry="4.1" fill="url(#gc)"/>
<ellipse cx="492.0" cy="218.8" rx="4.4" ry="4.1" fill="url(#gc)"/>
<circle cx="460.2" cy="221.6" r="2.8" fill="url(#gh)"/>
<ellipse cx="543.8" cy="224.5" rx="4.4" ry="4.1" fill="url(#gc)"/>
<ellipse cx="508.0" cy="227.5" rx="4.4" ry="4.1" fill="url(#gc)"/>
<ellipse cx="473.8" cy="228.8" rx="4.4" ry="4.1" fill="url(#gc)"/>
<ellipse cx="575.8" cy="235.0" rx="4.4" ry="4.1" fill="url(#gc)"/>
<circle cx="589.5" cy="238.8" r="2.8" fill="url(#gh)"/>
<ellipse cx="542.5" cy="243.0" rx="4.4" ry="4.1" fill="url(#gc)"/>
<ellipse cx="506.2" cy="245.5" rx="4.4" ry="4.1" fill="url(#gc)"/>
<ellipse cx="471.2" cy="247.0" rx="4.4" ry="4.1" fill="url(#gc)"/>
<ellipse cx="558.8" cy="248.2" rx="4.4" ry="4.1" fill="url(#gc)"/>
<circle cx="456.2" cy="255.4" r="2.8" fill="url(#gh)"/>
<ellipse cx="487.0" cy="256.2" rx="4.4" ry="4.1" fill="url(#gc)"/>
<ellipse cx="524.5" cy="257.0" rx="4.4" ry="4.1" fill="url(#gc)"/>
<circle cx="559.5" cy="263.8" r="2.8" fill="url(#gh)"/>
<circle cx="519.5" cy="263.8" r="2.8" fill="url(#gh)"/>
<circle cx="529.5" cy="270.0" r="2.8" fill="url(#gh)"/>
<circle cx="486.2" cy="270.5" r="2.8" fill="url(#gh)"/>
<text class="s" x="534.4" y="181.9" font-size="10.5" text-anchor="start" fill="#000">0.749</text>
<text class="s" x="524.6" y="195.4" font-size="10.5" text-anchor="start" fill="#000">3.587</text>
<text class="s" x="573.4" y="198.1" font-size="10.5" text-anchor="start" fill="#000">3.711</text>
<line x1="346.6" y1="278.9" x2="344.7" y2="268.1" stroke="#949898" stroke-width="1.15"/>
<line x1="333.9" y1="284.3" x2="320.1" y2="278.0" stroke="#949898" stroke-width="1.15"/>
<line x1="336.9" y1="298.1" x2="325.8" y2="302.3" stroke="#949898" stroke-width="1.15"/>
<line x1="354.2" y1="306.2" x2="356.9" y2="317.1" stroke="#949898" stroke-width="1.15"/>
<line x1="378.6" y1="281.8" x2="375.8" y2="272.8" stroke="#949898" stroke-width="1.15"/>
<line x1="410.7" y1="285.5" x2="407.8" y2="275.2" stroke="#949898" stroke-width="1.15"/>
<line x1="427.1" y1="293.1" x2="438.7" y2="289.3" stroke="#949898" stroke-width="1.15"/>
<line x1="431.0" y1="307.8" x2="445.2" y2="313.7" stroke="#949898" stroke-width="1.15"/>
<line x1="417.8" y1="312.8" x2="420.3" y2="323.6" stroke="#949898" stroke-width="1.15"/>
<line x1="386.2" y1="309.0" x2="388.3" y2="320.5" stroke="#949898" stroke-width="1.15"/>
<line x1="364.6" y1="287.2" x2="378.6" y2="281.8" stroke="#949898" stroke-width="1.15"/>
<line x1="378.6" y1="281.8" x2="395.6" y2="290.2" stroke="#949898" stroke-width="1.15"/>
<line x1="368.2" y1="301.0" x2="386.2" y2="309.0" stroke="#949898" stroke-width="1.15"/>
<line x1="386.2" y1="309.0" x2="399.6" y2="304.2" stroke="#949898" stroke-width="1.15"/>
<line x1="346.6" y1="278.9" x2="364.6" y2="287.2" stroke="#9a9e9e" stroke-width="1.15"/>
<line x1="349.2" y1="282.6" x2="360.0" y2="287.6" stroke="#a4a8a8" stroke-width="0.95" stroke-dasharray="1.4,1.0"/>
<line x1="364.6" y1="287.2" x2="368.2" y2="301.0" stroke="#9a9e9e" stroke-width="1.15"/>
<line x1="363.1" y1="290.5" x2="365.3" y2="298.8" stroke="#a4a8a8" stroke-width="0.95" stroke-dasharray="1.4,1.0"/>
<line x1="368.2" y1="301.0" x2="354.2" y2="306.2" stroke="#9a9e9e" stroke-width="1.15"/>
<line x1="364.6" y1="299.9" x2="356.2" y2="303.0" stroke="#a4a8a8" stroke-width="0.95" stroke-dasharray="1.4,1.0"/>
<line x1="354.2" y1="306.2" x2="336.9" y2="298.1" stroke="#9a9e9e" stroke-width="1.15"/>
<line x1="351.7" y1="302.5" x2="341.3" y2="297.6" stroke="#a4a8a8" stroke-width="0.95" stroke-dasharray="1.4,1.0"/>
<line x1="336.9" y1="298.1" x2="333.9" y2="284.3" stroke="#9a9e9e" stroke-width="1.15"/>
<line x1="338.5" y1="294.9" x2="336.7" y2="286.6" stroke="#a4a8a8" stroke-width="0.95" stroke-dasharray="1.4,1.0"/>
<line x1="333.9" y1="284.3" x2="346.6" y2="278.9" stroke="#9a9e9e" stroke-width="1.15"/>
<line x1="337.3" y1="285.3" x2="345.0" y2="282.1" stroke="#a4a8a8" stroke-width="0.95" stroke-dasharray="1.4,1.0"/>
<line x1="395.6" y1="290.2" x2="410.7" y2="285.5" stroke="#9a9e9e" stroke-width="1.15"/>
<line x1="399.3" y1="291.5" x2="408.4" y2="288.6" stroke="#a4a8a8" stroke-width="0.95" stroke-dasharray="1.4,1.0"/>
<line x1="410.7" y1="285.5" x2="427.1" y2="293.1" stroke="#9a9e9e" stroke-width="1.15"/>
<line x1="413.0" y1="289.1" x2="422.9" y2="293.7" stroke="#a4a8a8" stroke-width="0.95" stroke-dasharray="1.4,1.0"/>
<line x1="427.1" y1="293.1" x2="431.0" y2="307.8" stroke="#9a9e9e" stroke-width="1.15"/>
<line x1="425.7" y1="296.6" x2="428.0" y2="305.4" stroke="#a4a8a8" stroke-width="0.95" stroke-dasharray="1.4,1.0"/>
<line x1="431.0" y1="307.8" x2="417.8" y2="312.8" stroke="#9a9e9e" stroke-width="1.15"/>
<line x1="427.5" y1="306.6" x2="419.6" y2="309.6" stroke="#a4a8a8" stroke-width="0.95" stroke-dasharray="1.4,1.0"/>
<line x1="417.8" y1="312.8" x2="399.6" y2="304.2" stroke="#9a9e9e" stroke-width="1.15"/>
<line x1="415.1" y1="309.0" x2="404.2" y2="303.8" stroke="#a4a8a8" stroke-width="0.95" stroke-dasharray="1.4,1.0"/>
<line x1="399.6" y1="304.2" x2="395.6" y2="290.2" stroke="#9a9e9e" stroke-width="1.15"/>
<line x1="401.0" y1="300.8" x2="398.6" y2="292.4" stroke="#a4a8a8" stroke-width="0.95" stroke-dasharray="1.4,1.0"/>
<line x1="378.6" y1="281.8" x2="388.5" y2="241.5" stroke="#111" stroke-width="1.8" stroke-dasharray="1.4,1.2"/>
<line x1="386.2" y1="309.0" x2="391.5" y2="232.0" stroke="#111" stroke-width="1.8" stroke-dasharray="1.4,1.2"/>
<circle cx="391.5" cy="231.5" r="3.0" fill="url(#gh)"/>
<circle cx="388.5" cy="240.8" r="3.0" fill="url(#gh)"/>
<circle cx="344.7" cy="268.1" r="2.8" fill="url(#gh)"/>
<circle cx="375.8" cy="272.8" r="2.8" fill="url(#gh)"/>
<circle cx="407.8" cy="275.2" r="2.8" fill="url(#gh)"/>
<circle cx="320.1" cy="278.0" r="2.8" fill="url(#gh)"/>
<ellipse cx="346.6" cy="278.9" rx="3.9" ry="3.5" fill="url(#gc)"/>
<ellipse cx="378.6" cy="281.8" rx="3.9" ry="3.5" fill="url(#gc)"/>
<ellipse cx="333.9" cy="284.3" rx="3.9" ry="3.5" fill="url(#gc)"/>
<ellipse cx="410.7" cy="285.5" rx="3.9" ry="3.5" fill="url(#gc)"/>
<ellipse cx="364.6" cy="287.2" rx="3.9" ry="3.5" fill="url(#gc)"/>
<circle cx="438.7" cy="289.3" r="2.8" fill="url(#gh)"/>
<ellipse cx="395.6" cy="290.2" rx="3.9" ry="3.5" fill="url(#gc)"/>
<ellipse cx="427.1" cy="293.1" rx="3.9" ry="3.5" fill="url(#gc)"/>
<ellipse cx="336.9" cy="298.1" rx="3.9" ry="3.5" fill="url(#gc)"/>
<ellipse cx="368.2" cy="301.0" rx="3.9" ry="3.5" fill="url(#gc)"/>
<circle cx="325.8" cy="302.3" r="2.8" fill="url(#gh)"/>
<ellipse cx="399.6" cy="304.2" rx="3.9" ry="3.5" fill="url(#gc)"/>
<ellipse cx="354.2" cy="306.2" rx="3.9" ry="3.5" fill="url(#gc)"/>
<ellipse cx="431.0" cy="307.8" rx="3.9" ry="3.5" fill="url(#gc)"/>
<ellipse cx="386.2" cy="309.0" rx="3.9" ry="3.5" fill="url(#gc)"/>
<ellipse cx="417.8" cy="312.8" rx="3.9" ry="3.5" fill="url(#gc)"/>
<circle cx="445.2" cy="313.7" r="2.8" fill="url(#gh)"/>
<circle cx="356.9" cy="317.1" r="2.8" fill="url(#gh)"/>
<circle cx="388.3" cy="320.5" r="2.8" fill="url(#gh)"/>
<circle cx="420.3" cy="323.6" r="2.8" fill="url(#gh)"/>
<text class="s" x="355.6" y="241.8" font-size="10.5" text-anchor="start" fill="#000">0.743</text>
<text class="s" x="355.6" y="263.6" font-size="10.5" text-anchor="start" fill="#000">3.301</text>
<text class="s" x="397.2" y="263.6" font-size="10.5" text-anchor="start" fill="#000">5.647</text>
<text x="357.8" y="341.0" font-size="13.8" text-anchor="start" fill="#000">0.768 eV</text>
<line x1="185.0" y1="333.8" x2="184.5" y2="323.3" stroke="#949898" stroke-width="1.15"/>
<line x1="170.5" y1="340.8" x2="158.2" y2="336.2" stroke="#949898" stroke-width="1.15"/>
<line x1="171.0" y1="353.2" x2="159.8" y2="358.3" stroke="#949898" stroke-width="1.15"/>
<line x1="186.9" y1="358.8" x2="188.5" y2="368.8" stroke="#949898" stroke-width="1.15"/>
<line x1="217.7" y1="333.1" x2="216.5" y2="322.9" stroke="#949898" stroke-width="1.15"/>
<line x1="232.8" y1="343.9" x2="225.0" y2="345.0" stroke="#949898" stroke-width="1.15"/>
<line x1="221.2" y1="356.0" x2="221.9" y2="368.8" stroke="#949898" stroke-width="1.15"/>
<line x1="245.7" y1="343.2" x2="244.5" y2="334.5" stroke="#949898" stroke-width="1.15"/>
<line x1="259.3" y1="355.1" x2="270.2" y2="354.8" stroke="#949898" stroke-width="1.15"/>
<line x1="261.0" y1="367.7" x2="272.5" y2="377.4" stroke="#949898" stroke-width="1.15"/>
<line x1="249.1" y1="368.9" x2="249.9" y2="379.1" stroke="#949898" stroke-width="1.15"/>
<line x1="201.8" y1="339.2" x2="217.7" y2="333.1" stroke="#949898" stroke-width="1.15"/>
<line x1="217.7" y1="333.1" x2="232.8" y2="343.9" stroke="#949898" stroke-width="1.15"/>
<line x1="203.2" y1="351.8" x2="221.2" y2="356.0" stroke="#949898" stroke-width="1.15"/>
<line x1="221.2" y1="356.0" x2="235.2" y2="357.2" stroke="#949898" stroke-width="1.15"/>
<line x1="185.0" y1="333.8" x2="201.8" y2="339.2" stroke="#9a9e9e" stroke-width="1.15"/>
<line x1="187.7" y1="337.1" x2="197.7" y2="340.3" stroke="#a4a8a8" stroke-width="0.95" stroke-dasharray="1.4,1.0"/>
<line x1="201.8" y1="339.2" x2="203.2" y2="351.8" stroke="#9a9e9e" stroke-width="1.15"/>
<line x1="199.8" y1="342.0" x2="200.6" y2="349.5" stroke="#a4a8a8" stroke-width="0.95" stroke-dasharray="1.4,1.0"/>
<line x1="203.2" y1="351.8" x2="186.9" y2="358.8" stroke="#9a9e9e" stroke-width="1.15"/>
<line x1="199.0" y1="351.1" x2="189.3" y2="355.3" stroke="#a4a8a8" stroke-width="0.95" stroke-dasharray="1.4,1.0"/>
<line x1="186.9" y1="358.8" x2="171.0" y2="353.2" stroke="#9a9e9e" stroke-width="1.15"/>
<line x1="184.5" y1="355.5" x2="174.9" y2="352.2" stroke="#a4a8a8" stroke-width="0.95" stroke-dasharray="1.4,1.0"/>
<line x1="171.0" y1="353.2" x2="170.5" y2="340.8" stroke="#9a9e9e" stroke-width="1.15"/>
<line x1="173.2" y1="350.6" x2="172.9" y2="343.2" stroke="#a4a8a8" stroke-width="0.95" stroke-dasharray="1.4,1.0"/>
<line x1="170.5" y1="340.8" x2="185.0" y2="333.8" stroke="#9a9e9e" stroke-width="1.15"/>
<line x1="174.4" y1="341.5" x2="183.1" y2="337.3" stroke="#a4a8a8" stroke-width="0.95" stroke-dasharray="1.4,1.0"/>
<line x1="232.8" y1="343.9" x2="245.7" y2="343.2" stroke="#9a9e9e" stroke-width="1.15"/>
<line x1="235.5" y1="346.1" x2="243.2" y2="345.6" stroke="#a4a8a8" stroke-width="0.95" stroke-dasharray="1.4,1.0"/>
<line x1="245.7" y1="343.2" x2="259.3" y2="355.1" stroke="#9a9e9e" stroke-width="1.15"/>
<line x1="246.9" y1="347.3" x2="255.1" y2="354.5" stroke="#a4a8a8" stroke-width="0.95" stroke-dasharray="1.4,1.0"/>
<line x1="259.3" y1="355.1" x2="261.0" y2="367.7" stroke="#9a9e9e" stroke-width="1.15"/>
<line x1="257.4" y1="357.9" x2="258.4" y2="365.5" stroke="#a4a8a8" stroke-width="0.95" stroke-dasharray="1.4,1.0"/>
<line x1="261.0" y1="367.7" x2="249.1" y2="368.9" stroke="#9a9e9e" stroke-width="1.15"/>
<line x1="258.4" y1="365.7" x2="251.2" y2="366.4" stroke="#a4a8a8" stroke-width="0.95" stroke-dasharray="1.4,1.0"/>
<line x1="249.1" y1="368.9" x2="235.2" y2="357.2" stroke="#9a9e9e" stroke-width="1.15"/>
<line x1="247.8" y1="364.8" x2="239.5" y2="357.8" stroke="#a4a8a8" stroke-width="0.95" stroke-dasharray="1.4,1.0"/>
<line x1="235.2" y1="357.2" x2="232.8" y2="343.9" stroke="#9a9e9e" stroke-width="1.15"/>
<line x1="237.0" y1="354.1" x2="235.5" y2="346.2" stroke="#a4a8a8" stroke-width="0.95" stroke-dasharray="1.4,1.0"/>
<line x1="217.7" y1="333.1" x2="227.0" y2="314.5" stroke="#111" stroke-width="1.8" stroke-dasharray="1.4,1.2"/>
<circle cx="227.0" cy="314.5" r="3.0" fill="url(#gh)"/>
<circle cx="216.5" cy="322.9" r="2.8" fill="url(#gh)"/>
<circle cx="184.5" cy="323.3" r="2.8" fill="url(#gh)"/>
<ellipse cx="217.7" cy="333.1" rx="3.8" ry="3.7" fill="url(#gc)"/>
<ellipse cx="185.0" cy="333.8" rx="3.8" ry="3.7" fill="url(#gc)"/>
<circle cx="244.5" cy="334.5" r="2.8" fill="url(#gh)"/>
<circle cx="158.2" cy="336.2" r="2.8" fill="url(#gh)"/>
<ellipse cx="201.8" cy="339.2" rx="3.8" ry="3.7" fill="url(#gc)"/>
<ellipse cx="170.5" cy="340.8" rx="3.8" ry="3.7" fill="url(#gc)"/>
<ellipse cx="245.7" cy="343.2" rx="3.8" ry="3.7" fill="url(#gc)"/>
<ellipse cx="232.8" cy="343.9" rx="3.8" ry="3.7" fill="url(#gc)"/>
<circle cx="225.0" cy="345.0" r="2.8" fill="url(#gh)"/>
<ellipse cx="203.2" cy="351.8" rx="3.8" ry="3.7" fill="url(#gc)"/>
<ellipse cx="171.0" cy="353.2" rx="3.8" ry="3.7" fill="url(#gc)"/>
<circle cx="270.2" cy="354.8" r="2.8" fill="url(#gh)"/>
<ellipse cx="259.3" cy="355.1" rx="3.8" ry="3.7" fill="url(#gc)"/>
<ellipse cx="221.2" cy="356.0" rx="3.8" ry="3.7" fill="url(#gc)"/>
<ellipse cx="235.2" cy="357.2" rx="3.8" ry="3.7" fill="url(#gc)"/>
<circle cx="159.8" cy="358.3" r="2.8" fill="url(#gh)"/>
<ellipse cx="186.9" cy="358.8" rx="3.8" ry="3.7" fill="url(#gc)"/>
<ellipse cx="261.0" cy="367.7" rx="3.8" ry="3.7" fill="url(#gc)"/>
<circle cx="188.5" cy="368.8" r="2.8" fill="url(#gh)"/>
<circle cx="221.9" cy="368.8" r="2.8" fill="url(#gh)"/>
<ellipse cx="249.1" cy="368.9" rx="3.8" ry="3.7" fill="url(#gc)"/>
<circle cx="272.5" cy="377.4" r="2.8" fill="url(#gh)"/>
<circle cx="249.9" cy="379.1" r="2.8" fill="url(#gh)"/>
<text class="s" x="230.0" y="325.7" font-size="10.5" text-anchor="start" fill="#000">2.301</text>
<text x="192.3" y="390.0" font-size="13.8" text-anchor="start" fill="#000">3.424 eV</text>
</svg></body></html>
